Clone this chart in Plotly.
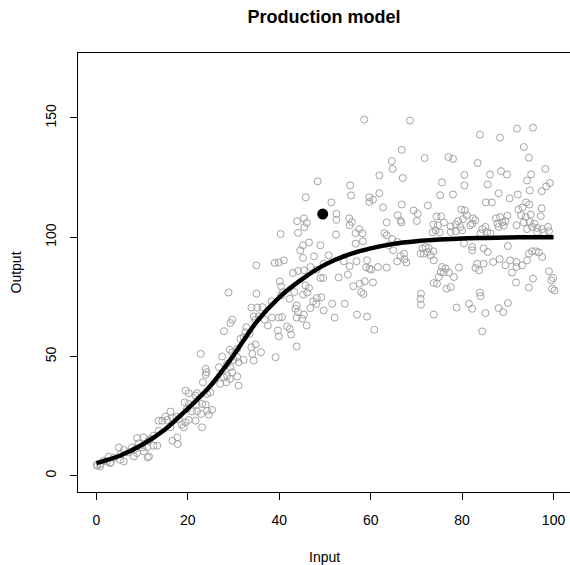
import plotly.graph_objects as go

pts = [
# upper middle region
(58.6,149.3),(68.6,148.9),(66.8,136.6),(71.8,133.2),(64.6,131.9),(64.8,128.6),(61.9,125.9),(67.0,124.8),
(48.4,123.4),(55.5,121.7),(55.7,117.5),(45.8,116.7),(61.9,118.4),(59.7,116.7),(60.5,115.7),(59.7,114.8),
(51.4,114.6),(62.7,112.5),(66.8,113.7),(72.5,113.3),(52.5,109.8),(52.5,107.3),(45.4,107.9),(46.0,106.0),
(45.5,104.2),(55.3,107.9),(55.9,106.4),(55.4,105.0),(57.5,103.4),(58.2,101.6),(56.7,101.7),(52.4,101.1),
(63.5,106.2),(65.9,109.2),(66.5,107.0),(66.7,106.2),(69.4,111.2),(70.3,109.8),(70.1,106.8),(63.0,101.7),(63.5,100.8),
# upper right region
(92.0,145.5),(95.5,145.9),(83.9,143.0),(88.3,141.7),(93.5,137.8),(77.0,133.6),(78.0,132.8),(94.6,133.3),
(83.4,131.1),(98.2,128.6),(80.5,126.1),(86.1,126.3),(88.5,127.7),(89.8,126.3),(95.1,126.3),(94.2,123.8),
(75.6,123.0),(80.5,121.7),(85.6,122.1),(99.2,122.7),(98.4,121.3),(94.8,119.6),(97.4,119.3),(75.2,117.6),
(78.0,117.9),(88.0,118.4),(92.2,117.9),(90.4,116.3),(85.2,114.6),(86.5,114.6),(94.0,114.6),(94.7,113.7),
(92.3,111.6),(93.2,112.5),(97.4,112.1),(74.4,108.7),(75.4,108.7),(79.8,111.6),(80.6,111.2),(81.0,109.2),
(79.1,106.7),(80.2,107.6),(82.4,107.9),(82.9,107.1),(82.2,105.7),(81.8,105.0),(78.6,105.3),(77.5,104.5),
(79.6,104.3),(76.0,106.2),(74.7,105.0),(73.7,105.3),(74.2,102.9),(73.5,102.0),(75.1,102.0),(78.6,102.5),
(80.0,102.9),(77.5,102.2),(85.1,104.3),(84.4,103.4),(84.0,101.6),(86.2,101.6),(85.5,102.2),(87.4,107.9),
(88.3,108.4),(89.9,109.0),(87.7,105.7),(88.8,106.2),(89.5,106.7),(88.0,104.3),(89.1,104.8),(91.9,105.0),
(92.9,109.2),(93.9,108.5),(95.0,109.5),(97.2,108.8),(93.5,106.2),(94.8,106.4),(95.8,105.7),(95.3,104.3),
(94.2,103.4),(96.4,103.9),(97.5,103.4),(98.8,104.3),(96.4,102.2),(97.9,102.0),(99.0,102.5),
# middle band
(46.5,97.8),(45.2,96.6),(44.6,94.5),(49.0,96.6),(47.6,92.0),(45.2,91.3),(50.8,92.4),(49.7,88.9),
(46.8,87.5),(45.4,86.1),(48.2,86.4),(49.0,82.9),(49.6,82.9),(53.0,83.1),(55.0,84.3),(55.4,87.8),
(54.1,89.9),(56.9,89.9),(59.2,90.3),(59.0,87.3),(59.7,86.8),(60.1,86.4),(61.6,87.5),(63.5,87.3),
(56.7,97.3),(58.3,98.3),(56.2,79.5),(57.6,80.5),(58.7,81.5),(57.9,77.0),(58.4,76.2),(60.5,81.0),
(45.7,79.8),(46.5,78.7),(46.1,76.8),(45.2,75.9),(48.2,74.5),(49.2,74.8),(47.4,73.1),(48.1,72.1),
(46.8,70.3),(51.6,72.1),(54.3,72.1),(49.7,69.3),(52.1,66.3),(45.4,67.5),(45.0,65.8),(46.0,63.0),
(57.0,67.5),(59.2,66.7),(60.8,61.2),(64.7,99.2),(64.0,96.6),(64.9,94.5),(65.8,98.0),(66.5,92.1),
(67.4,90.8),(67.8,89.4),(65.8,89.9),(67.3,93.1),(71.3,95.3),(72.0,95.9),(72.7,95.5),(70.9,93.1),
(71.6,93.1),(72.4,93.8),(73.1,92.4),(73.7,94.1),(71.0,76.3),(70.9,74.2),(71.0,71.7),(73.8,67.6),(73.8,80.8),
# lower right region
(80.4,97.4),(82.2,95.9),(82.2,94.5),(84.7,95.3),(85.6,93.8),(90.0,96.3),(73.8,90.3),(94.6,93.1),
(95.3,94.1),(96.1,94.1),(96.8,93.6),(97.5,91.7),(94.2,90.3),(93.1,88.2),(91.9,89.6),(91.9,87.5),
(90.5,90.3),(89.5,88.2),(88.2,90.8),(86.8,89.6),(84.7,88.9),(83.3,88.9),(82.9,87.1),(83.7,86.1),
(99.0,85.7),(99.9,82.9),(99.5,81.9),(99.7,78.4),(100.2,77.7),(95.5,82.6),(94.6,78.9),(91.8,81.0),
(90.9,85.2),(75.6,87.5),(76.4,86.8),(75.3,85.4),(76.0,85.2),(77.1,85.2),(74.9,83.3),(74.5,80.5),
(78.2,83.3),(79.3,87.3),(77.5,79.1),(76.6,78.4),(83.9,76.8),(84.0,75.3),(78.8,70.5),(81.5,72.1),
(82.2,70.0),(85.1,68.2),(88.0,70.3),(89.0,68.6),(90.0,72.4),(84.4,60.5),
# rising part
(40.3,101.3),(43.9,106.7),(44.1,101.8),(35.0,88.2),(39.0,89.2),(39.9,89.4),(41.0,90.3),(43.0,85.0),
(44.1,85.8),(40.1,81.5),(40.4,79.4),(40.8,77.0),(40.4,75.6),(35.0,76.3),(28.9,76.8),(38.3,73.1),
(42.3,74.2),(43.3,77.0),(43.8,71.4),(43.5,70.0),(44.1,68.6),(43.8,66.3),(33.9,70.5),(35.2,70.5),
(36.3,70.7),(34.4,66.8),(34.8,65.4),(35.5,66.8),(36.8,65.4),(37.5,63.0),(38.4,66.3),(39.9,66.3),
(40.6,66.5),(29.7,65.4),(29.3,64.0),(27.9,60.6),(32.8,62.3),(32.6,60.2),(33.5,59.5),(32.2,58.1),
(31.5,57.4),(39.7,60.9),(39.9,58.4),(41.7,62.6),(42.3,61.6),(42.6,59.2),(34.8,55.0),(33.9,53.9),
(36.0,51.8),(39.2,49.7),(43.8,54.2),(22.8,51.1),(27.5,50.0),(29.2,52.8),(29.7,51.8),(30.8,53.2),
(30.8,49.7),(30.0,48.6),(31.1,47.6),(32.2,48.6),(34.1,51.1),(34.4,48.3),(28.6,46.9),(29.3,45.5),
(29.7,43.4),(28.6,42.0),(27.9,41.3),(29.2,40.6),(30.8,41.6),(31.1,37.8),(28.4,39.2),(27.1,38.5),
(26.8,45.5),(23.9,44.8),(24.1,43.4),(23.9,42.4),(23.3,39.2),(24.9,35.0),(24.2,34.3),(22.0,34.6),(21.7,33.6),
# lower left region
(19.5,35.7),(20.2,34.6),(19.3,30.8),(20.2,30.1),(21.9,29.8),(23.1,30.1),(23.9,29.8),(24.2,27.3),
(25.3,27.6),(24.6,25.6),(22.9,25.9),(22.0,27.0),(20.9,27.0),(19.8,28.0),(23.1,20.3),(21.7,23.1),
(20.2,23.4),(19.5,22.4),(18.7,21.4),(18.0,23.8),(16.2,26.9),(15.1,24.8),(13.6,23.1),(14.4,23.1),
(15.5,23.4),(16.6,24.2),(17.5,24.8),(16.2,20.3),(16.6,14.7),(17.7,16.1),(17.8,13.3),(13.6,18.9),
(12.5,16.8),(11.8,15.4),(12.5,12.6),(13.3,12.6),(11.4,14.7),(10.3,16.1),(8.9,15.8),(9.2,13.6),
(10.0,11.9),(11.1,11.9),(7.8,11.9),(8.5,11.2),(7.1,9.8),(6.0,10.8),(4.9,11.9),(5.3,9.1),
(3.8,7.6),(2.7,8.0),(3.1,5.6),(1.6,6.3),(0.9,4.9),(0.2,4.2),(11.2,7.7),(19.1,20.3),
(0.1,4.6),(0.8,3.9),(2.3,6.0),(3.0,5.3),(5.2,6.7),(6.0,6.0),(8.2,8.1),(8.9,9.5),(10.4,10.2),(11.5,8.1),
]
input_vals = [p[0] for p in pts]
output_vals = [p[1] for p in pts]

# Fitted curve
curve_x = [0, 5, 10, 15, 20, 25, 30, 35, 40, 45, 50, 55, 60, 65, 70, 75, 80, 85, 90, 95, 100]
curve_y = [5.3, 8.3, 13.0, 19.4, 28.1, 37.8, 50.5, 64.4, 74.8, 82.4, 88.5, 92.6, 95.3, 97.2, 98.3, 99.0, 99.5, 99.7, 99.9, 100.0, 100.0]

# Highlighted point
hl_x = [49.5]
hl_y = [109.7]

y_ticks = [0, 50, 100, 150]
x_ticks = [0, 20, 40, 60, 80, 100]

FONT = "Liberation Sans, Arial, Helvetica, sans-serif"

W, H = 570, 565
ML, MR, MT, MB = 78, 0, 53, 73
plot_w = W - ML - MR
plot_h = H - MT - MB

fig = go.Figure()
fig.add_trace(go.Scatter(
    x=input_vals, y=output_vals, mode="markers",
    marker=dict(symbol="circle-open", size=7, color="#a3a3a3", line=dict(width=1, color="#a3a3a3")),
    hoverinfo="skip", showlegend=False))
fig.add_trace(go.Scatter(
    x=curve_x, y=curve_y, mode="lines",
    line=dict(color="black", width=4.5, shape="spline", smoothing=0.8),
    hoverinfo="skip", showlegend=False))
fig.add_trace(go.Scatter(
    x=hl_x, y=hl_y, mode="markers",
    marker=dict(symbol="circle", size=11, color="black"),
    hoverinfo="skip", showlegend=False))

fig.update_layout(
    width=W, height=H,
    margin=dict(l=ML, r=MR, t=MT, b=MB),
    paper_bgcolor="white", plot_bgcolor="white",
    font=dict(family=FONT, size=14, color="black"),
    title=dict(text="<b>Production model</b>", x=0.5, xref="paper", xanchor="center",
               y=1 - 17 / H, yref="container", yanchor="middle",
               font=dict(family=FONT, size=18, color="black")),
    xaxis=dict(range=[-4.03, 103.6], tickvals=x_ticks, ticktext=[str(v) for v in x_ticks],
               ticks="outside", ticklen=7, tickwidth=1, tickcolor="black",
               showline=True, linecolor="black", linewidth=1, mirror=True,
               showgrid=False, zeroline=False, ticklabelstandoff=8,
               tickfont=dict(size=14)),
    yaxis=dict(range=[-6.8, 177.2], tickvals=y_ticks, ticktext=[str(v) for v in y_ticks],
               ticks="outside", ticklen=7, tickwidth=1, tickcolor="black",
               showline=True, linecolor="black", linewidth=1, mirror=False,
               showgrid=False, zeroline=False, tickangle=-90, ticklabelstandoff=8,
               tickfont=dict(size=14)),
    annotations=[
        dict(text="Input", x=0.5, xref="paper", y=(H - MB - 557) / plot_h, yref="paper",
             xanchor="center", yanchor="middle", showarrow=False, font=dict(size=14)),
        dict(text="Output", x=(15 - ML) / plot_w, xref="paper", y=0.5, yref="paper",
             textangle=-90, xanchor="center", yanchor="middle", showarrow=False, font=dict(size=14)),
    ],
)

fig.write_html("out.html", config={"displayModeBar": False},
               post_script="document.body.style.margin='0';document.body.style.overflow='hidden';")
